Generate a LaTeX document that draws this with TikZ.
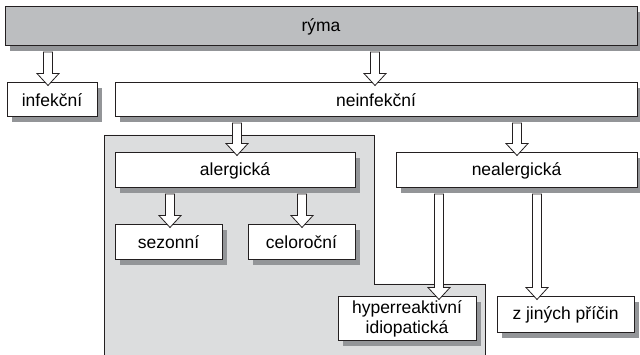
\documentclass[tikz,border=0pt]{standalone}
\usepackage{fontspec}
\setmainfont{Liberation Sans}
\usetikzlibrary{shadows,calc}
\definecolor{linec}{HTML}{231F20}
\definecolor{topgray}{HTML}{BCBEC0}
\definecolor{shadowgray}{HTML}{939598}
\definecolor{regiongray}{HTML}{DCDDDE}
\tikzset{
  box/.style={draw=linec, line width=1pt, fill=white, inner sep=0pt, align=center,
    font=\fontsize{17.5}{20}\selectfont,
    drop shadow={shadow xshift=5pt, shadow yshift=-5pt, fill=shadowgray, opacity=1}},
  arr/.style={draw=linec, line width=0.8pt, fill=white, line join=miter},
}
\newcommand\barrow[3]{%
  \draw[arr] let \p1=(#2.south), \p2=(#3.north) in
    (#1pt-4.5pt,\y1-5.5pt) -- (#1pt+4.5pt,\y1-5.5pt) -- (#1pt+4.5pt,\y2+9pt)
    -- (#1pt+11pt,\y2+9pt) -- (#1pt,\y2-3pt) -- (#1pt-11pt,\y2+9pt)
    -- (#1pt-4.5pt,\y2+9pt) -- cycle;}
\begin{document}
\begin{tikzpicture}[x=1pt,y=1pt]
\useasboundingbox (0,0) rectangle (640,-355);
% gray region
\fill[regiongray] (104,-360) -- (104,-135) -- (374,-135) -- (374,-284) -- (485,-284) -- (485,-360) -- cycle;
\draw[linec, line width=0.8pt] (104,-360) -- (104,-135) -- (374,-135) -- (374,-284) -- (485,-284) -- (485,-360);
% boxes
\node[box, fill=topgray, minimum width=632pt, minimum height=39pt] (ryma) at (321,-26.5) {rýma};
\node[box, minimum width=90pt, minimum height=34pt] (inf) at (52,-100) {infekční};
\node[box, minimum width=522pt, minimum height=34pt] (neinf) at (376,-100) {neinfekční};
\node[box, minimum width=240pt, minimum height=35pt] (aler) at (235,-170.5) {alergická};
\node[box, minimum width=241pt, minimum height=35pt] (nealer) at (516.5,-170.5) {nealergická};
\node[box, minimum width=107pt, minimum height=35pt] (sez) at (168.5,-242.5) {sezonní};
\node[box, minimum width=107pt, minimum height=35pt] (celo) at (301.5,-242.5) {celoroční};
\node[box, minimum width=138pt, minimum height=44pt] (hyper) at (407,-319) {hyperreaktivní\\idiopatická};
\node[box, minimum width=137pt, minimum height=36pt] (zjin) at (565.5,-315) {z jiných příčin};
% arrows
\barrow{48}{ryma}{inf}
\barrow{375}{ryma}{neinf}
\barrow{237}{neinf}{aler}
\barrow{517}{neinf}{nealer}
\barrow{170}{aler}{sez}
\barrow{302}{aler}{celo}
\barrow{439}{nealer}{hyper}
\barrow{537}{nealer}{zjin}
\end{tikzpicture}
\end{document}
